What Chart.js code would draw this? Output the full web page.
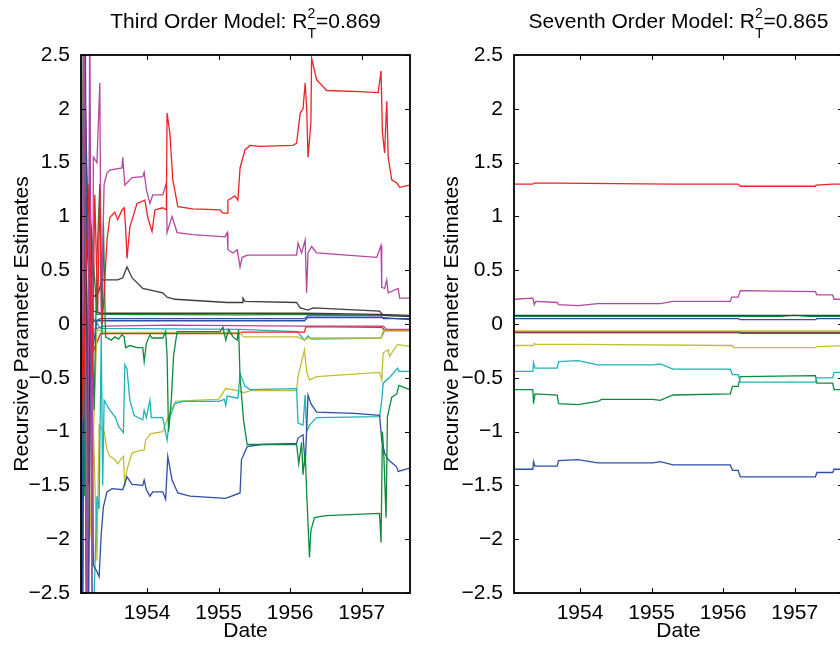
<!DOCTYPE html>
<html lang="en">
<head>
<meta charset="UTF-8">
<title>Recursive Parameter Estimates</title>
<script src="https://cdn.jsdelivr.net/npm/chart.js@4.4.1/dist/chart.umd.min.js"></script>
<style>
  html, body { margin: 0; padding: 0; background: #fff; overflow: hidden; }
  body { width: 840px; height: 645px; position: relative; }
  canvas { position: absolute; top: 0; }
  #third { left: 0; }
  #seventh { left: 430px; }
</style>
</head>
<body>
<canvas id="third" width="430" height="645"></canvas>
<canvas id="seventh" width="440" height="645"></canvas>

<script>
// axis settings
const dateMin = 1953.077;
const dateMax = 1957.675;
const xTickYears = [1954, 1955, 1956, 1957];
const yMin = -2.5, yMax = 2.5, yStep = 0.5;

// third order model: [date, estimate]
const third_red = [[1953.08,0.2],[1953.11,-0.9],[1953.14,0.4],[1953.19,1.3],[1953.23,-0.5],[1953.27,1.2],[1953.31,0.1],[1953.34,1.25],[1953.37,0.0],[1953.39,0.16],[1953.44,0.78],[1953.48,0.99],[1953.55,1.04],[1953.59,0.97],[1953.65,1.06],[1953.68,1.08],[1953.70,0.9],[1953.72,0.61],[1953.76,0.9],[1953.86,1.12],[1953.97,1.15],[1954.01,0.99],[1954.07,0.86],[1954.11,1.06],[1954.22,1.08],[1954.27,1.06],[1954.28,1.96],[1954.32,1.77],[1954.36,1.34],[1954.43,1.09],[1954.64,1.07],[1955.02,1.06],[1955.06,1.03],[1955.12,1.03],[1955.13,1.15],[1955.23,1.19],[1955.27,1.15],[1955.30,1.45],[1955.37,1.62],[1955.44,1.66],[1955.58,1.65],[1956.04,1.66],[1956.09,1.68],[1956.14,1.96],[1956.18,2.0],[1956.21,2.24],[1956.23,2.02],[1956.25,1.55],[1956.29,1.87],[1956.30,2.47],[1956.37,2.27],[1956.51,2.17],[1956.97,2.16],[1957.23,2.15],[1957.27,2.35],[1957.29,1.78],[1957.32,1.59],[1957.35,2.07],[1957.37,1.55],[1957.42,1.34],[1957.49,1.31],[1957.53,1.27],[1957.67,1.29]];
const third_magenta = [[1953.08,-1.5],[1953.12,3.5],[1953.16,-3.5],[1953.20,3.0],[1953.23,-2.5],[1953.25,1.55],[1953.30,1.5],[1953.34,2.24],[1953.36,0.1],[1953.40,1.3],[1953.44,1.40],[1953.48,1.43],[1953.65,1.45],[1953.66,1.55],[1953.69,1.29],[1953.79,1.36],[1953.94,1.37],[1953.96,1.41],[1953.99,1.25],[1954.04,1.12],[1954.08,1.2],[1954.22,1.2],[1954.27,1.31],[1954.28,0.85],[1954.35,1.0],[1954.42,0.85],[1954.64,0.83],[1955.09,0.81],[1955.12,0.85],[1955.13,0.69],[1955.20,0.66],[1955.26,0.69],[1955.30,0.53],[1955.33,0.62],[1955.40,0.64],[1956.09,0.64],[1956.11,0.75],[1956.16,0.66],[1956.21,0.78],[1956.23,0.29],[1956.25,0.66],[1956.30,0.72],[1956.37,0.66],[1957.21,0.62],[1957.27,0.73],[1957.28,0.34],[1957.32,0.33],[1957.35,0.41],[1957.37,0.29],[1957.51,0.33],[1957.53,0.24],[1957.67,0.24]];
const third_dark = [[1953.08,0.6],[1953.11,-1.0],[1953.14,1.2],[1953.18,-1.5],[1953.22,0.9],[1953.25,0.25],[1953.32,0.29],[1953.37,0.41],[1953.59,0.41],[1953.66,0.43],[1953.72,0.53],[1953.79,0.43],[1953.94,0.33],[1954.22,0.29],[1954.28,0.25],[1954.39,0.23],[1955.12,0.2],[1955.33,0.2],[1955.34,0.24],[1955.37,0.21],[1956.09,0.2],[1956.14,0.15],[1956.25,0.13],[1956.32,0.15],[1957.25,0.12],[1957.30,0.08],[1957.67,0.07]];
const third_dark2 = [[1953.08,-0.8],[1953.13,2.2],[1953.18,0.5],[1953.25,0.12],[1953.35,0.10],[1954.4,0.10],[1955.3,0.10],[1956.2,0.10],[1957.25,0.09],[1957.67,0.08]];
const third_green2 = [[1953.08,0.9],[1953.13,-1.6],[1953.20,1.1],[1953.30,0.09],[1955.3,0.085],[1956.25,0.09],[1957.3,0.08],[1957.67,0.07]];
const third_blue2 = [[1953.08,-1.8],[1953.15,0.8],[1953.25,0.02],[1953.35,0.05],[1956.2,0.05],[1956.25,0.075],[1957.27,0.075],[1957.3,0.05],[1957.67,0.05]];
const third_blue3 = [[1953.08,1.0],[1953.18,-0.5],[1953.3,0.03],[1956.2,0.03],[1956.25,0.06],[1957.3,0.06],[1957.67,0.04]];
const third_magenta2 = [[1953.08,1.5],[1953.15,-2.0],[1953.25,-0.05],[1953.4,-0.02],[1954.3,-0.01],[1956.2,-0.02],[1957.3,-0.02],[1957.35,-0.05],[1957.67,-0.05]];
const third_red2 = [[1953.08,-1.2],[1953.14,2.0],[1953.22,-0.3],[1953.35,-0.09],[1955.3,-0.09],[1955.32,-0.075],[1956.2,-0.075],[1956.22,-0.025],[1957.28,-0.03],[1957.32,-0.06],[1957.67,-0.06]];
const third_cyan2 = [[1953.08,2.0],[1953.15,-1.0],[1953.25,0.05],[1953.35,-0.04],[1955.3,-0.05],[1956.1,-0.07],[1956.2,-0.15],[1956.25,-0.11],[1956.3,-0.14],[1957.27,-0.13],[1957.32,-0.06],[1957.67,-0.06]];
const third_yellow2 = [[1953.08,1.0],[1953.2,-2.0],[1953.3,-0.05],[1953.4,-0.075],[1955.3,-0.08],[1955.35,-0.12],[1956.1,-0.12],[1956.2,-0.15],[1956.25,-0.13],[1957.27,-0.13],[1957.3,-0.065],[1957.67,-0.065]];
const third_green = [[1953.08,-0.5],[1953.11,2.8],[1953.15,-3.0],[1953.20,1.0],[1953.26,-0.8],[1953.30,0.6],[1953.34,1.3],[1953.37,-0.1],[1953.39,0.95],[1953.42,-0.12],[1953.50,-0.15],[1953.55,-0.12],[1953.60,-0.14],[1953.65,-0.1],[1953.68,-0.12],[1953.70,-0.22],[1953.76,-0.2],[1953.86,-0.22],[1953.94,-0.22],[1953.96,-0.35],[1953.99,-0.18],[1954.04,-0.1],[1954.07,-0.13],[1954.22,-0.13],[1954.26,-0.07],[1954.28,-0.3],[1954.30,-1.0],[1954.34,-0.7],[1954.37,-0.3],[1954.42,-0.07],[1955.02,-0.07],[1955.06,-0.03],[1955.10,-0.15],[1955.14,-0.05],[1955.20,-0.12],[1955.26,-0.15],[1955.28,-0.05],[1955.30,-0.5],[1955.35,-0.9],[1955.40,-1.12],[1956.09,-1.12],[1956.12,-1.3],[1956.16,-1.1],[1956.18,-1.4],[1956.21,-1.2],[1956.23,-1.55],[1956.27,-2.17],[1956.29,-1.92],[1956.34,-1.8],[1956.5,-1.78],[1957.25,-1.76],[1957.27,-2.03],[1957.29,-1.0],[1957.31,-1.23],[1957.34,-1.8],[1957.36,-0.86],[1957.42,-0.68],[1957.49,-0.65],[1957.52,-0.57],[1957.67,-0.61]];
const third_cyan = [[1953.08,-3.0],[1953.12,3.0],[1953.16,-3.0],[1953.20,2.0],[1953.24,-3.0],[1953.30,-1.6],[1953.33,-1.72],[1953.36,-0.1],[1953.38,-1.5],[1953.40,-0.71],[1953.48,-0.8],[1953.56,-0.87],[1953.60,-0.95],[1953.67,-1.01],[1953.69,-0.38],[1953.72,-0.42],[1953.76,-0.71],[1953.82,-0.85],[1953.94,-0.89],[1953.96,-0.8],[1953.99,-0.87],[1954.04,-0.71],[1954.06,-0.87],[1954.22,-0.87],[1954.28,-1.08],[1954.32,-0.86],[1954.39,-0.74],[1954.5,-0.72],[1955.0,-0.72],[1955.08,-0.7],[1955.10,-0.76],[1955.12,-0.67],[1955.27,-0.69],[1955.30,-0.46],[1955.37,-0.58],[1955.44,-0.61],[1956.09,-0.6],[1956.11,-0.92],[1956.18,-0.94],[1956.21,-0.66],[1956.23,-1.0],[1956.27,-0.94],[1956.37,-0.87],[1957.25,-0.86],[1957.28,-0.71],[1957.30,-0.55],[1957.40,-0.49],[1957.50,-0.41],[1957.52,-0.44],[1957.67,-0.44]];
const third_yellow = [[1953.08,3.0],[1953.10,-3.0],[1953.13,3.0],[1953.17,-2.8],[1953.20,1.0],[1953.23,-2.6],[1953.25,-0.94],[1953.30,-2.2],[1953.33,-0.94],[1953.40,-1.0],[1953.44,-1.17],[1953.48,-1.23],[1953.55,-1.26],[1953.59,-1.3],[1953.63,-1.26],[1953.67,-1.23],[1953.69,-1.51],[1953.72,-1.35],[1953.79,-1.2],[1953.88,-1.18],[1953.96,-1.17],[1953.98,-1.08],[1954.05,-1.02],[1954.22,-1.0],[1954.28,-0.89],[1954.35,-0.78],[1954.40,-0.72],[1954.64,-0.71],[1955.0,-0.7],[1955.10,-0.6],[1955.27,-0.62],[1955.35,-0.64],[1955.44,-0.62],[1956.09,-0.62],[1956.11,-0.49],[1956.20,-0.24],[1956.23,-0.44],[1956.27,-0.52],[1956.37,-0.49],[1957.25,-0.45],[1957.28,-0.52],[1957.30,-0.27],[1957.37,-0.24],[1957.39,-0.3],[1957.50,-0.19],[1957.67,-0.21]];
const third_blue = [[1953.08,2.0],[1953.10,-3.0],[1953.14,2.5],[1953.18,-3.0],[1953.22,0.5],[1953.25,-2.24],[1953.30,-2.3],[1953.33,-2.35],[1953.36,-1.95],[1953.39,-1.7],[1953.44,-1.56],[1953.51,-1.53],[1953.66,-1.54],[1953.72,-1.42],[1953.79,-1.49],[1953.94,-1.5],[1953.96,-1.45],[1953.99,-1.54],[1954.04,-1.6],[1954.08,-1.56],[1954.22,-1.56],[1954.26,-1.63],[1954.29,-1.23],[1954.35,-1.45],[1954.43,-1.57],[1954.6,-1.6],[1955.1,-1.62],[1955.30,-1.57],[1955.32,-1.26],[1955.40,-1.14],[1955.6,-1.12],[1956.09,-1.11],[1956.11,-1.06],[1956.18,-1.03],[1956.21,-1.32],[1956.25,-0.66],[1956.29,-0.74],[1956.37,-0.82],[1956.9,-0.83],[1957.25,-0.85],[1957.28,-1.08],[1957.32,-1.2],[1957.37,-1.26],[1957.49,-1.33],[1957.51,-1.37],[1957.67,-1.34]];

// seventh order model: [date, estimate]
const seventh_red = [[1953.08,1.30],[1953.34,1.30],[1953.36,1.31],[1953.68,1.31],[1955.3,1.30],[1956.21,1.30],[1956.24,1.28],[1957.29,1.28],[1957.30,1.29],[1957.53,1.30],[1957.68,1.30]];
const seventh_magenta = [[1953.08,0.23],[1953.34,0.24],[1953.36,0.18],[1953.38,0.21],[1953.68,0.20],[1953.70,0.18],[1953.97,0.17],[1954.25,0.19],[1955.12,0.19],[1955.30,0.21],[1956.10,0.21],[1956.12,0.25],[1956.21,0.25],[1956.24,0.31],[1957.29,0.30],[1957.31,0.27],[1957.53,0.27],[1957.55,0.23],[1957.68,0.23]];
const seventh_dark = [[1953.08,0.08],[1957.68,0.08]];
const seventh_green2 = [[1953.08,0.07],[1956.8,0.07],[1957.0,0.08],[1957.2,0.07],[1957.68,0.07]];
const seventh_blue2 = [[1953.08,0.05],[1956.21,0.05],[1956.24,0.04],[1957.29,0.04],[1957.31,0.05],[1957.68,0.05]];
const seventh_yellow2 = [[1953.08,-0.065],[1957.68,-0.065]];
const seventh_dark2 = [[1953.08,-0.072],[1956.22,-0.072],[1956.24,-0.085],[1957.68,-0.085]];
const seventh_red2 = [[1953.08,-0.076],[1957.68,-0.076]];
const seventh_cyan2 = [[1953.08,-0.082],[1957.68,-0.082]];
const seventh_yellow = [[1953.08,-0.2],[1953.34,-0.2],[1953.36,-0.18],[1953.38,-0.19],[1954.0,-0.19],[1956.10,-0.2],[1956.13,-0.2],[1956.15,-0.22],[1957.29,-0.22],[1957.31,-0.21],[1957.68,-0.2]];
const seventh_cyan = [[1953.08,-0.44],[1953.34,-0.44],[1953.35,-0.36],[1953.37,-0.41],[1953.68,-0.41],[1953.70,-0.35],[1953.97,-0.34],[1954.25,-0.38],[1955.02,-0.38],[1955.12,-0.37],[1955.30,-0.42],[1956.10,-0.42],[1956.13,-0.47],[1956.21,-0.47],[1956.24,-0.54],[1957.29,-0.54],[1957.31,-0.5],[1957.53,-0.5],[1957.55,-0.45],[1957.68,-0.45]];
const seventh_green = [[1953.08,-0.61],[1953.34,-0.61],[1953.35,-0.74],[1953.37,-0.65],[1953.68,-0.66],[1953.70,-0.74],[1953.97,-0.75],[1954.25,-0.72],[1954.30,-0.7],[1955.02,-0.7],[1955.12,-0.71],[1955.30,-0.66],[1956.10,-0.65],[1956.13,-0.58],[1956.21,-0.58],[1956.24,-0.49],[1957.29,-0.48],[1957.31,-0.55],[1957.53,-0.55],[1957.55,-0.61],[1957.68,-0.61]];
const seventh_blue = [[1953.08,-1.35],[1953.34,-1.35],[1953.35,-1.28],[1953.37,-1.32],[1953.68,-1.32],[1953.70,-1.27],[1953.97,-1.26],[1954.25,-1.29],[1955.02,-1.29],[1955.12,-1.28],[1955.30,-1.31],[1956.10,-1.31],[1956.13,-1.36],[1956.21,-1.36],[1956.24,-1.42],[1957.29,-1.42],[1957.31,-1.38],[1957.53,-1.38],[1957.55,-1.35],[1957.68,-1.35]];

const C = {
  blue: '#2e4fa6', green: '#0c8a3e', red: '#ec2227', cyan: '#1db3b8',
  magenta: '#b6479f', yellow: '#c2be33', dark: '#3d3d3d'
};

const FONT = '"Liberation Sans", Arial, Helvetica, sans-serif';
Chart.defaults.font.family = FONT;
Chart.defaults.font.size = 21;
Chart.defaults.color = '#000';

// title with R^2 over subscript T
const scriptTitle = {
  id: 'scriptTitle',
  afterDraw(chart, args, opts) {
    const ctx = chart.ctx;
    const a = chart.chartArea;
    const big = '21px ' + FONT;
    const small = '14px ' + FONT;
    ctx.save();
    ctx.fillStyle = '#000';
    ctx.textAlign = 'left';
    ctx.textBaseline = 'alphabetic';
    ctx.font = big;
    const w1 = ctx.measureText(opts.head).width;
    const w3 = ctx.measureText(opts.tail).width;
    ctx.font = small;
    const w2 = Math.max(ctx.measureText('2').width, ctx.measureText('T').width);
    let x = (a.left + a.right) / 2 - (w1 + w2 + w3) / 2;
    ctx.font = big;
    ctx.fillText(opts.head, x, 28);
    x += w1;
    ctx.font = small;
    ctx.fillText('2', x, 18);
    ctx.fillText('T', x, 38);
    x += w2;
    ctx.font = big;
    ctx.fillText(opts.tail, x, 28);
    ctx.restore();
  }
};

// box around the plot with inward tick marks on all four sides
const axesBox = {
  id: 'axesBox',
  afterDatasetsDraw(chart) {
    const {ctx, chartArea: a, scales: {x, y}} = chart;
    const len = 5;
    ctx.save();
    ctx.strokeStyle = '#000';
    ctx.lineWidth = 1;
    ctx.beginPath();
    x.ticks.forEach(t => {
      const px = Math.round(x.getPixelForValue(t.value)) + 0.5;
      ctx.moveTo(px, a.top); ctx.lineTo(px, a.top + len);
      ctx.moveTo(px, a.bottom); ctx.lineTo(px, a.bottom - len);
    });
    y.ticks.forEach(t => {
      const py = Math.round(y.getPixelForValue(t.value)) + 0.5;
      ctx.moveTo(a.left, py); ctx.lineTo(a.left + len, py);
      ctx.moveTo(a.right, py); ctx.lineTo(a.right - len, py);
    });
    ctx.stroke();
    ctx.lineWidth = 1.8;
    ctx.strokeRect(a.left, a.top, a.right - a.left, a.bottom - a.top);
    ctx.restore();
  }
};

function fmtY(v) {
  if (v === 0) return '0';
  return (v < 0 ? '\u2212' : '') + Math.abs(v);
}

function makeChart(id, head, tail, series, yWidth, padRight) {
  new Chart(document.getElementById(id), {
    type: 'line',
    data: {
      datasets: series.map(s => ({
        data: s.data.map(p => ({x: p[0], y: p[1]})),
        borderColor: s.color,
        borderWidth: 1.3,
        pointRadius: 0,
        tension: 0,
        fill: false
      }))
    },
    options: {
      responsive: false,
      animation: false,
      devicePixelRatio: 1,
      layout: { padding: { top: 55, right: padRight, left: 0, bottom: 0 } },
      plugins: {
        legend: { display: false },
        tooltip: { enabled: false },
        scriptTitle: { head: head, tail: tail }
      },
      scales: {
        x: {
          type: 'linear',
          min: dateMin,
          max: dateMax,
          afterBuildTicks: s => { s.ticks = xTickYears.map(v => ({value: v})); },
          afterFit: s => { s.height = 52; },
          grid: { display: false },
          border: { display: false },
          ticks: { padding: 0, maxRotation: 0, callback: v => String(v) },
          title: { display: true, text: 'Date', padding: { top: 0, bottom: 1 } }
        },
        y: {
          type: 'linear',
          min: yMin,
          max: yMax,
          afterFit: s => { s.width = yWidth; },
          grid: { display: false },
          border: { display: false },
          ticks: { stepSize: yStep, padding: 3, callback: v => fmtY(v) },
          title: { display: true, text: 'Recursive Parameter Estimates', padding: { top: 10, bottom: 0 } }
        }
      }
    },
    plugins: [scriptTitle, axesBox]
  });
}

makeChart('third', 'Third Order Model: R', '=0.869', [
  {data: third_red, color: C.red},
  {data: third_magenta, color: C.magenta},
  {data: third_dark, color: C.dark},
  {data: third_green, color: C.green},
  {data: third_blue, color: C.blue},
  {data: third_cyan, color: C.cyan},
  {data: third_yellow, color: C.yellow},
  {data: third_dark2, color: C.dark},
  {data: third_green2, color: C.green},
  {data: third_blue2, color: C.blue},
  {data: third_blue3, color: C.blue},
  {data: third_magenta2, color: C.magenta},
  {data: third_yellow2, color: C.yellow},
  {data: third_red2, color: C.red},
  {data: third_cyan2, color: C.cyan}
], 81, 20);

makeChart('seventh', 'Seventh Order Model: R', '=0.865', [
  {data: seventh_red, color: C.red},
  {data: seventh_magenta, color: C.magenta},
  {data: seventh_dark, color: C.dark},
  {data: seventh_green2, color: C.green},
  {data: seventh_blue2, color: C.blue},
  {data: seventh_yellow2, color: C.yellow},
  {data: seventh_dark2, color: C.dark},
  {data: seventh_red2, color: C.red},
  {data: seventh_cyan2, color: C.cyan},
  {data: seventh_yellow, color: C.yellow},
  {data: seventh_cyan, color: C.cyan},
  {data: seventh_green, color: C.green},
  {data: seventh_blue, color: C.blue}
], 84, 27);
</script>
</body>
</html>
